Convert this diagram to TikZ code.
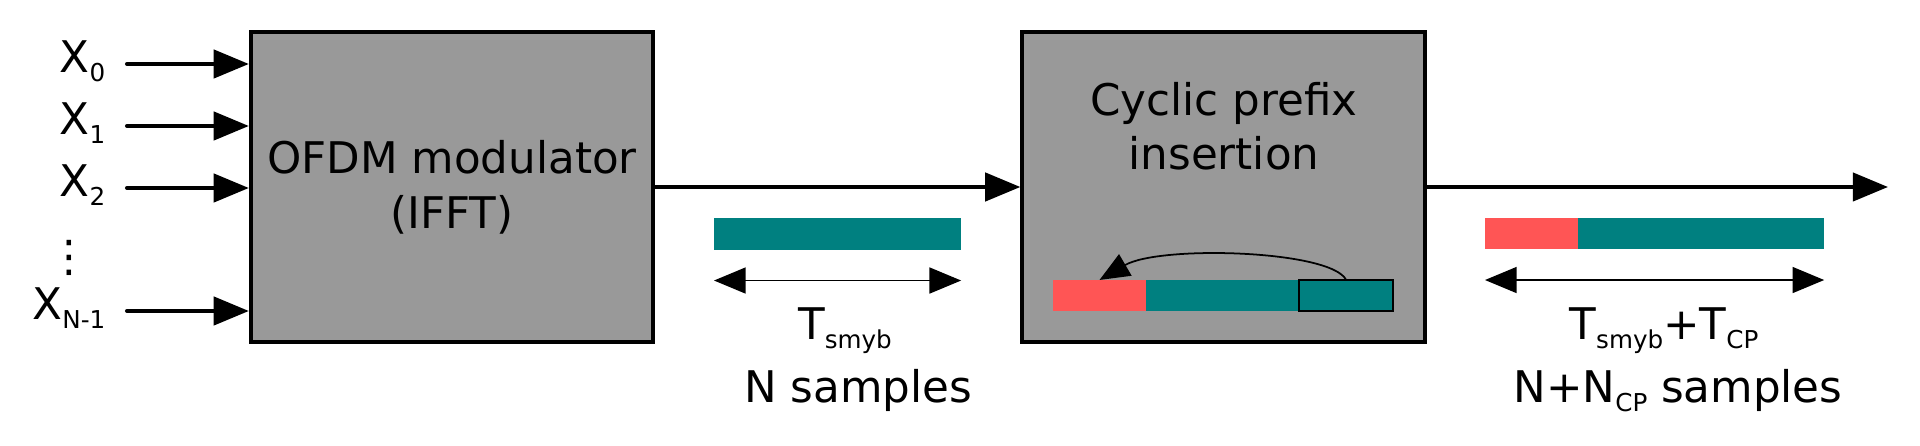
\documentclass[tikz,border=0pt]{standalone}
\usepackage{fontspec}
\setmainfont{DejaVu Sans}
\usetikzlibrary{arrows.meta,positioning}
\definecolor{cpred}{HTML}{FF5555}
\definecolor{symteal}{HTML}{008080}
\definecolor{blockgray}{HTML}{999999}
\newcommand{\subidx}[1]{\raisebox{-2.5pt}{\fontsize{7}{8}\selectfont #1}}
\begin{document}
\begin{tikzpicture}[
x=0.01cm,y=-0.01cm,
font=\fontsize{12.4}{15.6}\selectfont,
block/.style={draw,line width=1.15pt,fill=blockgray,minimum width=4.02cm,minimum height=3.1cm,inner sep=0pt,align=center},
bar/.style={inner sep=0pt,outer sep=0pt,minimum height=0.31cm,anchor=west},
thick arrow/.style={line width=1.15pt,line cap=round,-{Triangle[length=10pt,width=8pt]}},
span arrow/.style={line width=0.4pt,{Triangle[length=9pt,width=7.4pt]}-{Triangle[length=9pt,width=7.4pt]}},
txt/.style={inner sep=0pt,anchor=base}
]
\useasboundingbox (0,0) rectangle (1920,446);

\node[block] (ifft) at (452,187) {OFDM modulator\\(IFFT)};
\node[block] (cpins) at (1223.5,187) {};
\node[txt,align=center] (cptext) at (1224,170) {Cyclic prefix\\insertion};

\foreach \i/\lab/\y in {0/0/64,1/1/126,2/2/188,3/N-1/311}{
  \node[txt,anchor=base east] (x\i) at (106,\y+9) {X\subidx{\lab}};
  \coordinate (in\i) at (127,\y);
  \draw[thick arrow] (in\i) -- (in\i -| ifft.west);
}
\node[txt] (vdots) at (69,272) {⋮};

\draw[thick arrow] (ifft) -- (cpins);
\coordinate (out) at (1888,187);
\draw[thick arrow] (cpins) -- (out);

\node[bar,fill=symteal,minimum width=2.47cm] (symN) at (714,234) {};
\draw[span arrow] ([yshift=-0.31cm]symN.south west) -- ([yshift=-0.31cm]symN.south east);
\node[txt] (tsym) at (845,340) {T\subidx{smyb}};
\node[txt] (nsym) at (858,403) {N samples};

\node[bar,fill=cpred,minimum width=0.93cm] (cpcopy) at (1053,295.5) {};
\node[bar,fill=symteal,minimum width=2.47cm,right=0pt of cpcopy] (symin) {};
\node[bar,draw,line width=0.5pt,fill=symteal,minimum width=0.94cm,anchor=east] (symtail) at (symin.east) {};
\draw[line width=0.5pt,-{Triangle[length=8.5pt,width=7pt]}] (symtail.north) .. controls +(-15,-30) and +(60,-35) .. (cpcopy.north);

\node[bar,fill=cpred,minimum width=0.93cm] (cpout) at (1485,233.5) {};
\node[bar,fill=symteal,minimum width=2.46cm,right=0pt of cpout] (symout) {};
\draw[span arrow] ([yshift=-0.31cm]cpout.south west) -- ([yshift=-0.31cm]symout.south east);
\node[txt] (tcp) at (1664,340) {T\subidx{smyb}+T\subidx{CP}};
\node[txt] (ncp) at (1678,403) {N+N\subidx{CP} samples};
\end{tikzpicture}
\end{document}
